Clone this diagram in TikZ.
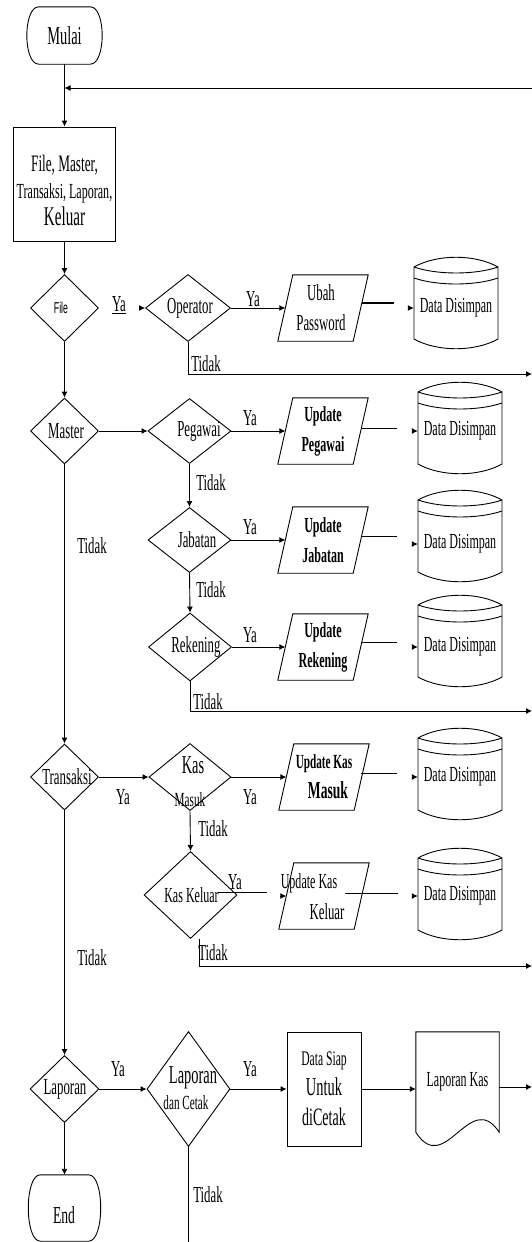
\documentclass[tikz,border=0pt]{standalone}
\usepackage{fontspec}
\setmainfont{Liberation Serif}[FakeStretch=0.56]
\newfontfamily\sansn{Liberation Sans}[FakeStretch=0.56]
\usetikzlibrary{shapes.geometric,arrows.meta,calc}
\newcommand\fs[1]{\fontsize{\fpeval{#1*1.43}}{\fpeval{#1*1.43}}\selectfont}
\tikzset{
 ln/.style={line width=0.9pt},
 arr/.style={line width=0.9pt,-{Latex[length=6pt,width=6pt]}},
 dia/.style={diamond,draw,line width=0.9pt,inner sep=0pt},
 lbl/.style={inner sep=0pt,font=\fs{16}},
 pbox/.style={inner sep=0pt,minimum width=90pt,minimum height=66pt},
 ptext/.style={inner sep=0pt,align=center,font=\fontsize{22.9}{30}\selectfont},
 cylnode/.style={inner sep=0pt,minimum width=84pt,font=\fs{15}},
 termnode/.style={inner sep=0pt,minimum width=83pt,font=\fs{18}},
}
\newcommand\para[5]{%
  \node[pbox] (#1) at (#2,#3) {};
  \node[ptext] (#1t) at ({#2+#5},#3) {#4};
  \draw[ln] ([xshift=15pt]#1.north west) -- (#1.north east) -- ([xshift=-15pt]#1.south east) -- (#1.south west) -- cycle;
  \coordinate (#1in) at ([xshift=7.5pt]#1.west);
}
\newcommand\cyl[4]{%
  \node[cylnode] (#1) at (#2,#4) {Data Disimpan};
  \draw[ln] ({#2-42},{#3-36}) .. controls ({#2-19},{#3-49}) and ({#2+19},{#3-49}) .. ({#2+42},{#3-36})
     -- ({#2+42},{#3+36}) .. controls ({#2+19},{#3+49}) and ({#2-19},{#3+49}) .. ({#2-42},{#3+36}) -- cycle;
  \draw[ln] ({#2-42},{#3-36}) .. controls ({#2-19},{#3-28}) and ({#2+19},{#3-28}) .. ({#2+42},{#3-36});
  \draw[ln] ({#2-42},{#3-25}) .. controls ({#2-19},{#3-17}) and ({#2+19},{#3-17}) .. ({#2+42},{#3-25});
}
\newcommand\termshape[1]{%
  \draw[ln] ([xshift=16pt]#1.north west) -- ([xshift=-16pt]#1.north east)
    .. controls (#1.north east) and (#1.south east) .. ([xshift=-16pt]#1.south east)
    -- ([xshift=16pt]#1.south west)
    .. controls (#1.south west) and (#1.north west) .. ([xshift=16pt]#1.north west) -- cycle;
}
\begin{document}
\begin{tikzpicture}[x=1pt,y=-1pt]
\fill[white] (0,0) rectangle (532,1242);
\useasboundingbox (0,0) rectangle (532,1242);

% start
\node[termnode,minimum height=57pt] (mulai) at (64.5,35.5) {Mulai};
\termshape{mulai}
\node[draw,ln,minimum width=102pt,minimum height=114pt,inner sep=0pt] (menu) at (64.5,184) {};
\node[inner sep=0pt,align=center,font=\fontsize{21.5}{27}\selectfont] (menuT) at (64.5,190)
  {{\fs{16.5}File, Master,}\\Transaksi, Laporan,\\{\fontsize{27}{27}\selectfont Keluar}};
\draw[arr] (mulai.south) -- (menu.north);
\coordinate (loopR) at (532,88);
\draw[arr] (loopR) -- (loopR -| mulai.south);

% File row
\node[dia,minimum width=68pt,minimum height=67pt] (file) at (64.5,308) {};
\node[lbl,font=\sansn\fs{11}] (fileT) at (61,308) {File};
\node[dia,minimum width=85pt,minimum height=67pt] (op) at (188,308) {};
\node[lbl] (opT) at (190,308) {Operator};
\para{ubah}{323}{308}{Ubah\\Password}{-2}
\cyl{cylU}{456}{303}{308}
\draw[arr] (menu.south) -- (file.north);
\node[lbl] (ya0) at (119,305) {\underline{Ya}};
\draw[arr] ([xshift=-6pt]op.west) -- (op.west);
\draw[arr] (op.east) -- (ubahin);
\node[lbl] (ya1) at (253,299) {Ya};
\draw[line width=2pt] ([xshift=-6pt,yshift=5pt]ubah.east) -- ([xshift=-20pt,yshift=5pt]cylU.west);
\draw[arr] ([xshift=-6pt]cylU.west) -- (cylU.west);
\coordinate (rt1) at (532,374);
\draw[arr] (op.south) |- (rt1);
\node[lbl] (td1) at (206,364) {Tidak};

% Master row
\node[dia,minimum width=68pt,minimum height=66pt] (master) at (64.5,431) {};
\node[lbl] (masterT) at (66,431) {Master};
\node[dia,minimum width=83pt,minimum height=65pt] (peg) at (189.5,431) {};
\node[lbl] (pegT) at (199,431) {Pegawai};
\para{updP}{323}{431}{{\bfseries\fs{15}Update}\\{\bfseries\fs{15}Pegawai}}{0}
\cyl{cylP}{460}{428}{431}
\draw[arr] (file.south) -- (master.north);
\draw[arr] (master.east) -- (peg.west);
\draw[arr] (peg.east) -- (updPin);
\node[lbl] (ya2) at (250,418) {Ya};
\coordinate (gP) at (397,428);
\draw[ln] ($(gP -| updP.east)+(-6,0)$) -- (gP);
\draw[arr] ([xshift=-6pt]cylP.west) -- (cylP.west);

% Jabatan row
\node[dia,minimum width=83pt,minimum height=65pt] (jab) at (189.5,540) {};
\node[lbl] (jabT) at (197,540) {Jabatan};
\para{updJ}{323}{540}{{\bfseries\fs{15}Update}\\{\bfseries\fs{15}Jabatan}}{0}
\cyl{cylJ}{460}{536}{544}
\draw[arr] (peg.south) -- (jab.north);
\node[lbl] (td2) at (211,483) {Tidak};
\draw[arr] (jab.east) -- (updJin);
\node[lbl] (ya3) at (250,527) {Ya};
\coordinate (gJ) at (397,536);
\draw[ln] ($(gJ -| updJ.east)+(-6,0)$) -- (gJ);
\draw[arr] ([xshift=-6pt]cylJ.west) -- (cylJ.west);

% Rekening row
\node[dia,minimum width=83pt,minimum height=68pt] (rek) at (190,647) {};
\node[lbl] (rekT) at (196,647) {Rekening};
\para{updR}{323}{647}{{\bfseries\fs{15}Update}\\{\bfseries\fs{15}Rekening}}{0}
\cyl{cylR}{460}{641}{647}
\draw[arr] (jab.south) -- (rek.north);
\node[lbl] (td3) at (211,590) {Tidak};
\draw[arr] (rek.east) -- (updRin);
\node[lbl] (ya4) at (250,635) {Ya};
\coordinate (gR) at (397,642);
\draw[ln] ($(gR -| updR.east)+(-6,0)$) -- (gR);
\draw[arr] ([xshift=-6pt]cylR.west) -- (cylR.west);
\coordinate (rt2) at (532,711);
\draw[arr] (rek.south) |- (rt2);
\node[lbl] (td4) at (208,702) {Tidak};

% Transaksi row
\node[dia,minimum width=68pt,minimum height=66pt] (trans) at (64.5,777) {};
\node[lbl] (transT) at (67,777) {Transaksi};
\node[dia,minimum width=82pt,minimum height=67pt] (km) at (190,777) {};
\node[lbl,font=\fs{18}] (kmT1) at (193,765) {Kas};
\node[lbl,font=\fs{14}] (kmT2) at (190,800) {Masuk};
\para{updKM}{324}{777}{{\bfseries\fs{14}Update Kas}\\\hspace*{8pt}{\bfseries\fs{17}Masuk}}{0}
\cyl{cylKM}{460}{774}{777}
\draw[arr] (master.south) -- (trans.north);
\node[lbl] (tdM1) at (92,546) {Tidak};
\draw[arr] (trans.east) -- (km.west);
\draw[arr] (km.east) -- (updKMin);
\node[lbl] (ya5) at (123,797) {Ya};
\node[lbl] (ya6) at (250,797) {Ya};
\coordinate (gKM) at (397,773);
\draw[ln] ($(gKM -| updKM.east)+(-8,0)$) -- (gKM);
\draw[arr] ([xshift=-6pt]cylKM.west) -- (cylKM.west);

% Kas Keluar row
\node[dia,minimum width=93pt,minimum height=87pt] (kk) at (190.5,895) {};
\node[lbl,font=\fs{15}] (kkT) at (191.5,895) {Kas Keluar};
\para{updKK}{324}{896}{}{0}
\node[lbl,font=\fs{15}] (kkU1) at (309,883) {Update Kas};
\node[lbl,font=\fs{16}] (kkU2) at (327,912) {Keluar};
\cyl{cylKK}{460}{894}{896}
\draw[arr] (km.south) -- (kk.north);
\node[lbl] (td5) at (213,829) {Tidak};
\coordinate (kkB) at (267,892);
\draw[ln] ([xshift=27.5pt,yshift=3pt]kk.center) -- (kkB);
\draw[arr] ([xshift=-6pt]updKKin) -- (updKKin);
\node[lbl] (ya7) at (235,882) {Ya};
\coordinate (gKKa) at (345,893);
\coordinate (gKKb) at (398,893);
\draw[ln] (gKKa) -- (gKKb);
\draw[arr] ([xshift=-6pt]cylKK.west) -- (cylKK.west);
\coordinate (rt3) at (532,966);
\draw[arr] ([xshift=9pt]kk.south) |- (rt3);
\node[lbl] (td6) at (213,953) {Tidak};

% Laporan row
\node[dia,minimum width=69pt,minimum height=67pt] (lap) at (64.5,1089) {};
\node[lbl] (lapT) at (65,1089) {Laporan};
\node[dia,minimum width=83pt,minimum height=115pt] (ldc) at (188.5,1089) {};
\node[lbl,font=\fs{18}] (ldcT1) at (193,1078) {Laporan};
\node[lbl,font=\fs{14}] (ldcT2) at (186,1103) {dan Cetak};
\node[draw,ln,minimum width=74pt,minimum height=114pt,inner sep=0pt,align=center,font=\fontsize{24.3}{30}\selectfont] (siap) at (324,1089)
  {{\fs{14.5}Data Siap}\\{\fs{18}Untuk}\\{\fs{17.5}diCetak}};
\node[inner sep=0pt,minimum width=83pt,minimum height=100pt,font=\fs{15}] (doc) at (457.5,1082) {Laporan Kas};
\draw[ln] (doc.north west) -- (doc.north east) -- (doc.south east)
  .. controls (470,1088) and (445,1178) .. (doc.south west) -- cycle;
\draw[arr] (trans.south) -- (lap.north);
\node[lbl] (tdM2) at (92,958) {Tidak};
\draw[arr] (lap.east) -- (ldc.west);
\draw[arr] (ldc.east) -- (siap.west);
\draw[arr] (siap.east) -- (siap.east -| doc.west);
\coordinate (rt4) at (532,1087);
\draw[arr] (rt4 -| doc.east) -- (rt4);
\node[lbl] (ya8) at (118,1069) {Ya};
\node[lbl] (ya9) at (250,1069) {Ya};
\coordinate (bot) at (188.5,1242);
\draw[ln] (ldc.south) -- (bot);
\node[lbl] (td7) at (208,1195) {Tidak};

% End
\node[termnode,minimum width=80pt,minimum height=66pt] (end) at (64.5,1208) {};
\termshape{end}
\node[lbl,font=\fs{17}] (endT) at (64,1215) {End};
\draw[arr] (lap.south) -- (end.north);
\end{tikzpicture}
\end{document}
